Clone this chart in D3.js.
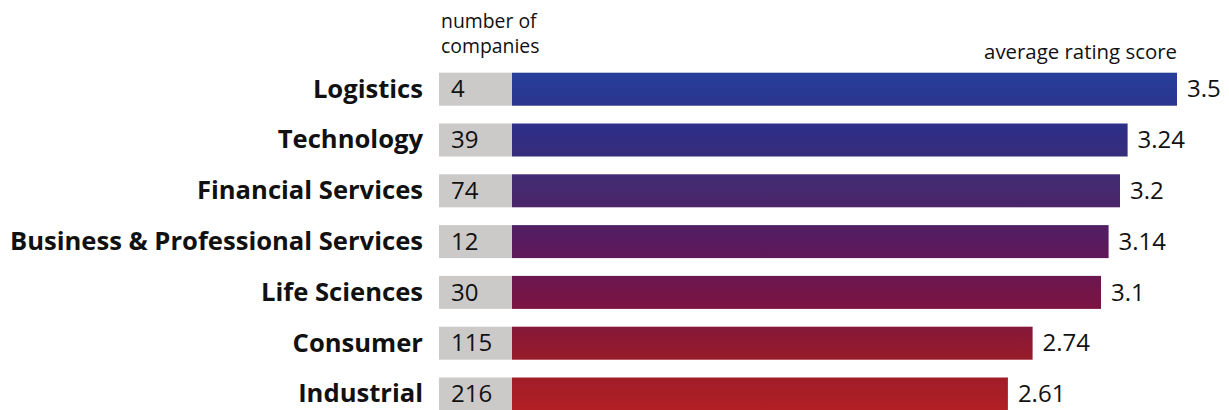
<!DOCTYPE html>
<html><head><meta charset="utf-8">
<script src="https://cdn.jsdelivr.net/npm/d3@7"></script>
<style>body{margin:0;background:#fff}svg{display:block}</style>
</head><body>
<svg id="chart" width="1229" height="410"></svg>
<script>
const categories = ["Logistics","Technology","Financial Services","Business & Professional Services","Life Sciences","Consumer","Industrial"];
const companies = [4,39,74,12,30,115,216];
const scores = [3.5,3.24,3.2,3.14,3.1,2.74,2.61];

const svg = d3.select("#chart");
const font = "'Open Sans', sans-serif";
const step = 50.8, y0 = 72.7, bh = 33;
const x = d3.scaleLinear().domain([0,3.5]).range([512,1177]);
const y = d3.scaleBand().domain(categories).range([y0, y0 + step*7 - (step-bh)]).paddingInner((step-bh)/step).paddingOuter(0);

const defs = svg.append("defs");
const g = defs.append("linearGradient").attr("id","grad").attr("gradientUnits","userSpaceOnUse")
  .attr("x1",0).attr("x2",0).attr("y1",73).attr("y2",410);
[[0,"#263e9a"],[0.17,"#2e2e86"],[0.33,"#432a70"],[0.5,"#581b5f"],[0.67,"#771446"],[0.84,"#951b2b"],[1,"#b21f24"]]
  .forEach(([o,c])=>g.append("stop").attr("offset",o).attr("stop-color",c));

const rows = svg.selectAll("g.row").data(categories).join("g").attr("class","row");
rows.append("rect").attr("x",439).attr("y",d=>y(d)).attr("width",x(0)-439).attr("height",y.bandwidth()).attr("fill","#cbcac8");
rows.append("rect").attr("x",x(0)).attr("y",d=>y(d)).attr("width",(d,i)=>x(scores[i])-x(0)).attr("height",y.bandwidth()).attr("fill","url(#grad)");
rows.append("text").attr("x",423).attr("y",d=>y(d)+y.bandwidth()/2).attr("dy","0.33em")
  .attr("text-anchor","end").attr("font-family",font).attr("font-weight","bold").attr("font-size",25.6)
  .attr("fill","#111").text(d=>d);
rows.append("text").attr("x",451).attr("y",d=>y(d)+y.bandwidth()/2).attr("dy","0.34em")
  .attr("font-family",font).attr("font-size",24).attr("fill","#111").text((d,i)=>companies[i]);
rows.append("text").attr("x",(d,i)=>x(scores[i])+10).attr("y",d=>y(d)+y.bandwidth()/2).attr("dy","0.34em")
  .attr("font-family",font).attr("font-size",24).attr("fill","#111").text((d,i)=>scores[i]);

svg.append("text").attr("x",441).attr("y",28).attr("font-family",font).attr("font-size",19.4).attr("fill","#111").text("number of");
svg.append("text").attr("x",441).attr("y",53).attr("font-family",font).attr("font-size",19.4).attr("fill","#111").text("companies");
svg.append("text").attr("x",1177).attr("y",59).attr("text-anchor","end").attr("font-family",font).attr("font-size",20.4).attr("fill","#111").text("average rating score");
</script>
</body></html>
